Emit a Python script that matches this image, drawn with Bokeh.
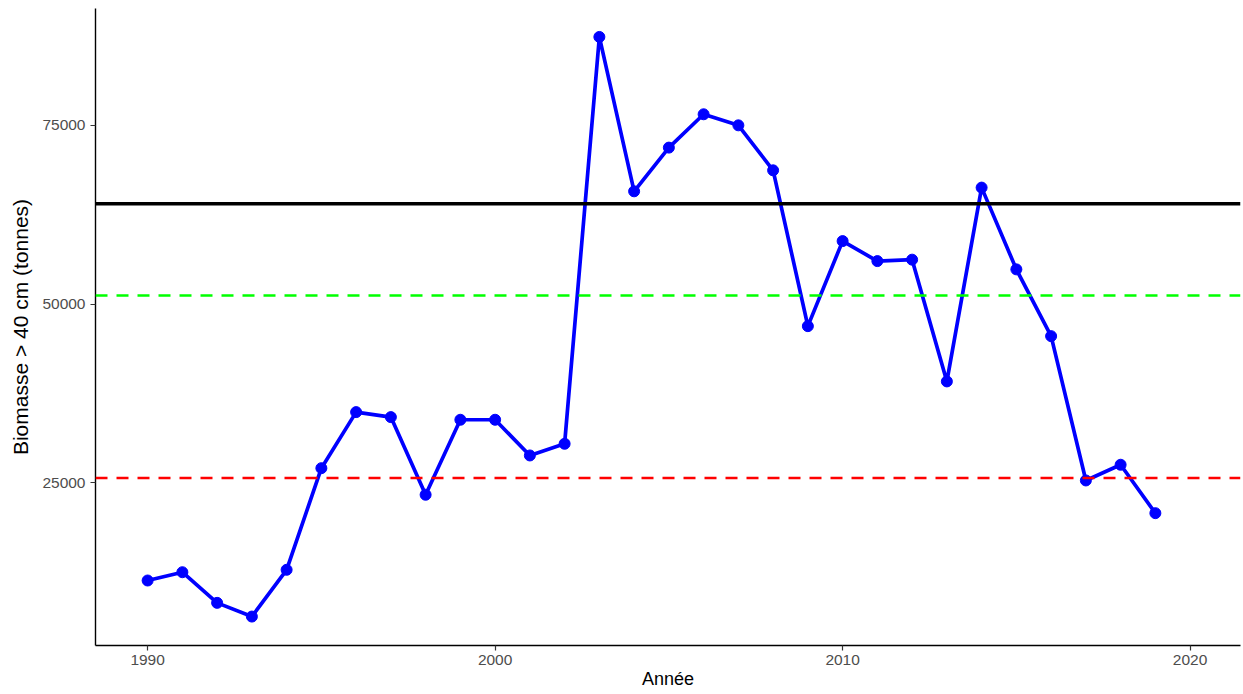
from bokeh.plotting import figure
from bokeh.models import Range1d, FixedTicker, Span, ColumnDataSource
from bokeh.embed import file_html
from bokeh.resources import INLINE

years = list(range(1990, 2020))
biomass = [11280, 12440, 8150, 6230, 12780, 27010, 34860, 34160, 23290, 33790,
           33790, 28790, 30430, 87400, 65780, 71900, 76570, 75020, 68720, 46900,
           58810, 56010, 56210, 39160, 66300, 54850, 45500, 25290, 27490, 20710]
ref_black = 64050
ref_green = 51200
ref_red = 25640
x_ticks = [1990, 2000, 2010, 2020]
y_ticks = [25000, 50000, 75000]

FONT = "Liberation Sans"

p = figure(width=1243, height=694, output_backend="svg", toolbar_location=None,
           x_range=Range1d(1988.5, 2021.45), y_range=Range1d(2178, 91382),
           min_border_left=95, min_border_right=3, min_border_top=8, min_border_bottom=49)
p.background_fill_color = "white"
p.border_fill_color = "white"
p.outline_line_color = None
p.grid.visible = False

for ax in (p.xaxis[0], p.yaxis[0]):
    ax.axis_line_color = "black"
    ax.axis_line_width = 1.4
    ax.major_tick_line_color = "#333333"
    ax.major_tick_line_width = 1.2
    ax.major_tick_out = 5
    ax.major_tick_in = 0
    ax.minor_tick_line_color = None
    ax.major_label_text_color = "#4D4D4D"
    ax.major_label_text_font = FONT
    ax.major_label_text_font_size = "15.5px"
    ax.axis_label_text_font = FONT
    ax.axis_label_text_font_style = "normal"
    ax.axis_label_text_color = "black"

p.xaxis.ticker = FixedTicker(ticks=x_ticks)
p.yaxis.ticker = FixedTicker(ticks=y_ticks)
p.xaxis.axis_label = "Année"
p.yaxis.axis_label = "Biomasse > 40 cm (tonnes)"
p.xaxis.axis_label_text_font_size = "18px"
p.yaxis.axis_label_text_font_size = "21px"
p.xaxis.major_label_standoff = 4
p.xaxis.axis_label_standoff = 1
p.yaxis.major_label_standoff = 5
p.yaxis.axis_label_standoff = 7

p.add_layout(Span(location=ref_black, dimension="width", line_color="black", line_width=3.5))
p.add_layout(Span(location=ref_green, dimension="width", line_color="#00FF00", line_width=2.4,
                  line_dash="12 9"))
p.add_layout(Span(location=ref_red, dimension="width", line_color="#FF0000", line_width=2.4,
                  line_dash="12 9"))

src = ColumnDataSource(dict(x=years, y=biomass))
p.line("x", "y", source=src, line_color="#0000FF", line_width=3.7)
p.scatter("x", "y", source=src, size=11, fill_color="#0000FF", line_color="#0000FF")

open("out.html", "w").write(file_html(p, INLINE))
